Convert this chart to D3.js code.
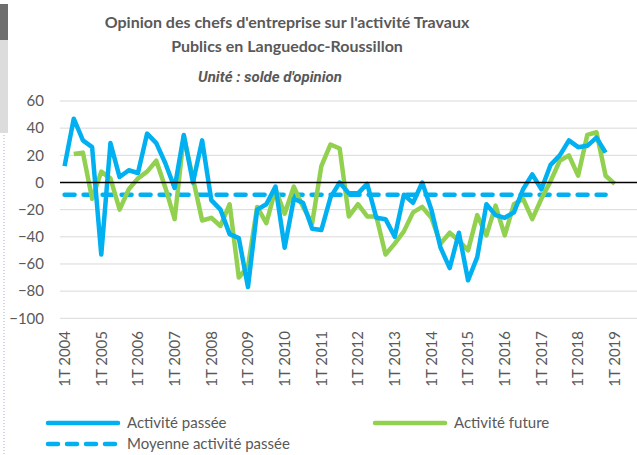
<!DOCTYPE html>
<html>
<head>
<meta charset="utf-8">
<script src="https://cdn.jsdelivr.net/npm/d3@7"></script>
<style>
  body { margin: 0; background: #fff; }
  text { font-family: Lato, "Open Sans", sans-serif; fill: #595959; }
</style>
</head>
<body>
<div id="chart"></div>
<script>
// quarterly balance of opinion, 1T 2004 .. 4T 2018 (passée) / 2T 2004 .. 1T 2019 (future)
var yearLabels = ["1T 2004","1T 2005","1T 2006","1T 2007","1T 2008","1T 2009","1T 2010","1T 2011",
                  "1T 2012","1T 2013","1T 2014","1T 2015","1T 2016","1T 2017","1T 2018","1T 2019"];
var passee = [12, 47, 31, 26, -53, 29, 4, 9, 7, 36, 29, 14, -4, 35, 0, 31,
              -13, -20, -38, -41, -77, -20, -16, -3, -48, -12, -15, -34, -35, -11, 0, -8,
              -8, -1, -26, -27, -40, -9, -15, 0, -20, -48, -63, -37, -72, -55, -16, -24,
              -26, -22, -5, 6, -5, 13, 20, 31, 26, 27, 33, 22];
var future = [null, 21, 22, -12, 8, 3, -20, -5, 3, 8, 16, -4, -27, 34, 3, -28,
              -26, -32, -16, -70, -62, -18, -30, -5, -23, -3, -18, -30, 12, 28, 25, -25,
              -16, -25, -25, -53, -45, -36, -22, -18, -26, -45, -37, -43, -50, -24, -39, -17,
              -39, -16, -12, -27, -12, 1, 16, 20, 5, 35, 37, 5, -1];
var moyenne = -9;
var yTicks = [60, 40, 20, 0, -20, -40, -60, -80, -100];

var W = 637, H = 455;
var nQuarters = 64;
var quarters = [];
for (var i = 0; i < nQuarters; i++) {
  quarters.push((i % 4 + 1) + "T " + (2004 + Math.floor(i / 4)));
}

var svg = d3.select("#chart").append("svg")
  .attr("width", W).attr("height", H);

// screenshot leftovers on the left edge
svg.append("rect").attr("x", 0).attr("y", 4).attr("width", 8).attr("height", 36).attr("fill", "#6e6e6e");
svg.append("rect").attr("x", 0).attr("y", 40).attr("width", 8).attr("height", 93).attr("fill", "#dcdcdc");
svg.append("line").attr("x1", 4).attr("x2", 4).attr("y1", 135).attr("y2", H)
  .attr("stroke", "#9fb3d6").attr("stroke-width", 1).attr("stroke-dasharray", "1,2");

var x = d3.scaleBand().domain(quarters).range([60, 60 + nQuarters * 9.17]);
var cx = function (q) { return x(q) + x.bandwidth() / 2; };
var y = d3.scaleLinear().domain([-100, 60]).range([318.3, 101]);

// gridlines
svg.append("g").selectAll("line").data(yTicks.filter(function (d) { return d !== 0; }))
  .enter().append("line")
  .attr("x1", 60).attr("x2", W)
  .attr("y1", function (d) { return y(d); }).attr("y2", function (d) { return y(d); })
  .attr("stroke", "#d9d9d9").attr("stroke-width", 1);

// y labels
var yAxis = svg.append("g").attr("transform", "translate(44,0)")
  .call(d3.axisLeft(y).tickValues(yTicks).tickSize(0).tickPadding(0));
yAxis.select(".domain").remove();
yAxis.selectAll("text").style("font-size", "15px").attr("fill", "#595959")
  .style("font-family", "Lato, sans-serif");

// x labels, rotated, reading bottom to top
var xAxis = svg.append("g").attr("transform", "translate(0,331)")
  .call(d3.axisBottom(x).tickValues(yearLabels).tickSize(0).tickPadding(0));
xAxis.select(".domain").remove();
xAxis.selectAll(".tick").attr("transform", function (d) { return "translate(" + cx(d) + ",0)"; });
xAxis.selectAll("text")
  .attr("transform", "rotate(-90)")
  .attr("x", 0).attr("y", 0).attr("dy", "0.35em")
  .attr("text-anchor", "end")
  .style("font-size", "15px").attr("fill", "#595959")
  .style("font-family", "Lato, sans-serif");

// mean line
svg.append("line")
  .attr("x1", cx(quarters[0])).attr("x2", cx(quarters[passee.length - 1]))
  .attr("y1", y(moyenne)).attr("y2", y(moyenne))
  .attr("stroke", "#00b0f0").attr("stroke-width", 4.5)
  .attr("stroke-dasharray", "10,9").attr("stroke-linecap", "round");

var line = d3.line()
  .defined(function (d) { return d !== null; })
  .x(function (d, i) { return cx(quarters[i]); })
  .y(function (d) { return y(d); });

svg.append("path").datum(future)
  .attr("d", line).attr("fill", "none")
  .attr("stroke", "#92d050").attr("stroke-width", 4.5).attr("stroke-linejoin", "round");

svg.append("path").datum(passee)
  .attr("d", line).attr("fill", "none")
  .attr("stroke", "#00b0f0").attr("stroke-width", 4.5).attr("stroke-linejoin", "round");

// zero line on top
svg.append("line")
  .attr("x1", 60).attr("x2", W).attr("y1", y(0)).attr("y2", y(0))
  .attr("stroke", "#000").attr("stroke-width", 1.5);

// titles
svg.append("text").attr("x", 287).attr("y", 28).attr("text-anchor", "middle")
  .style("font-size", "16px").style("font-weight", "bold")
  .text("Opinion des chefs d'entreprise sur l'activité Travaux");
svg.append("text").attr("x", 287).attr("y", 52).attr("text-anchor", "middle")
  .style("font-size", "16px").style("font-weight", "bold")
  .text("Publics en Languedoc-Roussillon");
svg.append("text").attr("x", 270).attr("y", 82).attr("text-anchor", "middle")
  .style("font-size", "15px").style("font-weight", "bold").style("font-style", "italic")
  .style("font-family", "Roboto, sans-serif")
  .text("Unité : solde d'opinion");

// legend
var legend = [
  {label: "Activité passée", color: "#00b0f0", dash: null, x: 48, y: 423},
  {label: "Activité future", color: "#92d050", dash: null, x: 375, y: 423},
  {label: "Moyenne activité passée", color: "#00b0f0", dash: "10,9", x: 48, y: 444}
];
var lg = svg.append("g").selectAll("g").data(legend).enter().append("g");
lg.append("line")
  .attr("x1", function (d) { return d.x; }).attr("x2", function (d) { return d.x + 70; })
  .attr("y1", function (d) { return d.y; }).attr("y2", function (d) { return d.y; })
  .attr("stroke", function (d) { return d.color; }).attr("stroke-width", 4.5)
  .attr("stroke-linecap", "round")
  .attr("stroke-dasharray", function (d) { return d.dash; });
lg.append("text")
  .attr("x", function (d) { return d.x + 79; }).attr("y", function (d) { return d.y; })
  .attr("dy", "0.35em").style("font-size", "15px")
  .text(function (d) { return d.label; });
</script>
</body>
</html>
